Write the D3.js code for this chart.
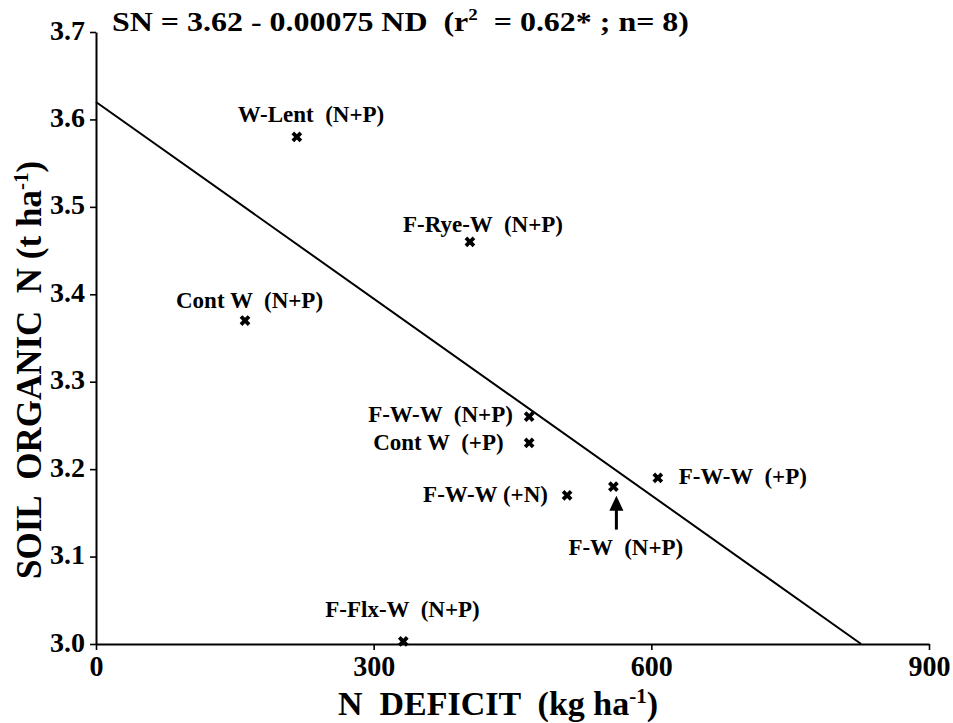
<!DOCTYPE html>
<html>
<head>
<meta charset="utf-8">
<script src="https://cdn.jsdelivr.net/npm/d3@7"></script>
<style>
  html, body { margin: 0; padding: 0; background: #fff; }
  svg { display: block; }
  text { font-family: "Liberation Serif", "Times New Roman", serif; font-weight: bold; fill: #000; }
</style>
</head>
<body>
<svg id="chart" width="953" height="723"></svg>
<script>
// Rotation treatments: N deficit (kg/ha) vs soil organic N (t/ha)
const treatments = ["W-Lent  (N+P)", "F-Rye-W  (N+P)", "Cont W  (N+P)", "F-W-W  (N+P)", "Cont W  (+P)",
                    "F-W-W (+N)", "F-W  (N+P)", "F-W-W  (+P)", "F-Flx-W  (N+P)"];
const nDeficit = [217, 404, 161, 468, 468, 509, 559, 607, 332];
const soilN    = [3.58, 3.46, 3.37, 3.26, 3.23, 3.17, 3.18, 3.19, 3.003];

// Fitted regression: SN = intercept + slope * ND
const intercept = 3.62;
const slope = -0.00075;

const xTicks = [0, 300, 600, 900];
const yTicks = [3.0, 3.1, 3.2, 3.3, 3.4, 3.5, 3.6, 3.7];

// Label placement relative to each marker (text start, baseline)
const labelOffsets = [[-59, -15], [-67, -10], [-69, -13], [-161, 5], [-156, 7],
                      [-144, 7], [-45, 68], [21, 6], [-78, -24]];

const svg = d3.select("#chart");

const x = d3.scaleLinear().domain([0, 900]).range([96, 929]);
const y = d3.scaleLinear().domain([3.0, 3.7]).range([644, 32]);

// Y axis
const yAxis = svg.append("g")
  .attr("transform", `translate(${x(0)},0)`)
  .call(d3.axisLeft(y).tickValues(yTicks).tickSize(6).tickSizeOuter(0).tickPadding(5).tickFormat(d3.format(".1f")));
yAxis.select(".domain").attr("stroke", "#000").attr("stroke-width", 2);
yAxis.selectAll(".tick line").attr("stroke", "#000").attr("stroke-width", 1.6);
yAxis.selectAll(".tick text")
  .attr("font-size", 28).attr("dy", null).attr("y", 7)
  .style("font-family", "'Liberation Serif', serif").style("font-weight", "bold");

// X axis
const xAxis = svg.append("g")
  .attr("transform", `translate(0,${y(3.0)})`)
  .call(d3.axisBottom(x).tickValues(xTicks).tickSize(6).tickSizeOuter(0).tickPadding(4).tickFormat(d3.format("d")));
xAxis.select(".domain").attr("stroke", "#000").attr("stroke-width", 2);
xAxis.selectAll(".tick line").attr("stroke", "#000").attr("stroke-width", 1.6);
xAxis.selectAll(".tick text")
  .attr("font-size", 30).attr("dy", null).attr("y", 32)
  .style("font-family", "'Liberation Serif', serif").style("font-weight", "bold")
  .each(function(d) {
    const s = String(d);
    d3.select(this).attr("textLength", s.length * 14).attr("lengthAdjust", "spacingAndGlyphs");
  });

// Regression line, from ND = 0 down to where it reaches SN = 3.0
const ndEnd = (3.0 - intercept) / slope;
svg.append("line")
  .attr("x1", x(0)).attr("y1", y(intercept))
  .attr("x2", x(ndEnd)).attr("y2", y(intercept + slope * ndEnd))
  .attr("stroke", "#000").attr("stroke-width", 2);

// Points
const pts = treatments.map((name, i) => ({ name, nd: nDeficit[i], sn: soilN[i], off: labelOffsets[i] }));
const marker = d3.symbol().type(d3.symbolCross).size(72);

svg.append("g").selectAll("path")
  .data(pts).join("path")
  .attr("d", marker)
  .attr("transform", d => `translate(${x(d.nd)},${y(d.sn)}) rotate(45)`)
  .attr("fill", "#000");

svg.append("g").selectAll("text")
  .data(pts).join("text")
  .attr("x", d => x(d.nd) + d.off[0])
  .attr("y", d => y(d.sn) + d.off[1])
  .attr("font-size", 23)
  .style("white-space", "pre")
  .attr("xml:space", "preserve")
  .text(d => d.name);

// Arrow pointing up at the F-W (N+P) marker
const fw = pts.find(d => d.name === "F-W  (N+P)");
const ax = x(fw.nd) + 3, ay = y(fw.sn);
svg.append("line")
  .attr("x1", ax).attr("y1", ay + 43).attr("x2", ax).attr("y2", ay + 20)
  .attr("stroke", "#000").attr("stroke-width", 3);
svg.append("path")
  .attr("d", `M${ax},${ay + 9} L${ax - 7},${ay + 24} L${ax + 7},${ay + 24} Z`)
  .attr("fill", "#000");

// Regression equation
const title = svg.append("text")
  .attr("x", 112).attr("y", 31)
  .attr("font-size", 27)
  .attr("xml:space", "preserve");
title.append("tspan").text("SN = 3.62 - 0.00075 ND  (r");
title.append("tspan").attr("font-size", 16).attr("dy", -11).text("2");
title.append("tspan").attr("dy", 11).text("  = 0.62* ; n= 8)");
title.attr("textLength", 577).attr("lengthAdjust", "spacingAndGlyphs");

// Axis titles
const xTitle = svg.append("text")
  .attr("x", 498).attr("y", 715)
  .attr("text-anchor", "middle")
  .attr("font-size", 34)
  .attr("xml:space", "preserve");
xTitle.append("tspan").text("N  DEFICIT  (kg ha");
xTitle.append("tspan").attr("font-size", 21).attr("dy", -12).text("-1");
xTitle.append("tspan").attr("dy", 12).text(")");

const yTitle = svg.append("text")
  .attr("transform", "translate(41,370) rotate(-90)")
  .attr("text-anchor", "middle")
  .attr("font-size", 35)
  .attr("xml:space", "preserve");
yTitle.append("tspan").text("SOIL  ORGANIC  N (t ha");
yTitle.append("tspan").attr("font-size", 21).attr("dy", -13).text("-1");
yTitle.append("tspan").attr("dy", 13).text(")");
</script>
</body>
</html>
